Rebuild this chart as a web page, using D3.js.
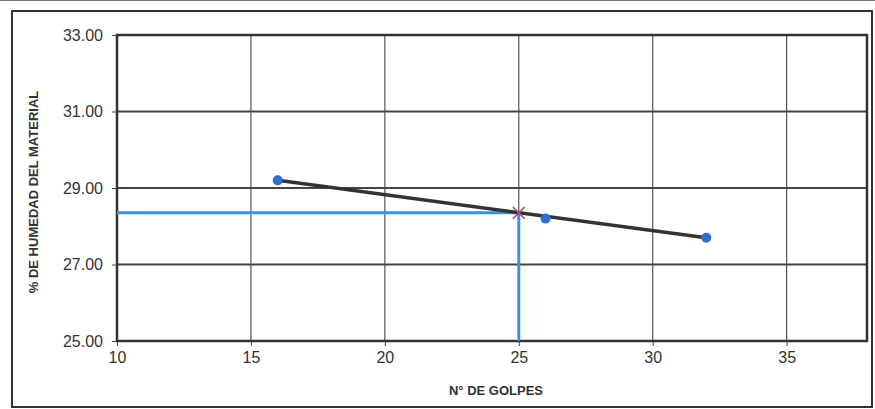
<!DOCTYPE html>
<html><head><meta charset="utf-8">
<script src="https://cdn.jsdelivr.net/npm/d3@7"></script>
<style>body{margin:0;background:#fff}svg{display:block}text{font-family:Arial,"Liberation Sans",sans-serif}</style>
</head><body><svg id="c" width="875" height="409"></svg>
<script>
const xTicks=[10,15,20,25,30,35];
const yTicks=[25,27,29,31,33];
const golpes=[16,26,32];
const humedad=[29.2,28.2,27.7];
const trendX=[16,32];
const trendY=[29.2,27.7];
const markX=[25];
const markY=[28.35];

const svg=d3.select("#c");
const m={l:117,t:35,r:867,b:341};
const x=d3.scaleLinear().domain([10,38]).range([m.l,m.r]);
const y=d3.scaleLinear().domain([25,33]).range([m.b,m.t]);

// outer frame
svg.append("rect").attr("x",12).attr("y",11).attr("width",860).attr("height",396)
 .attr("fill","none").attr("stroke","#333").attr("stroke-width",2);
svg.append("line").attr("x1",0).attr("x2",875).attr("y1",0.5).attr("y2",0.5).attr("stroke","#777").attr("stroke-width",1);

// grid
svg.append("g").selectAll("line").data(xTicks.slice(1)).join("line")
 .attr("x1",d=>x(d)).attr("x2",d=>x(d)).attr("y1",m.t).attr("y2",m.b)
 .attr("stroke","#555").attr("stroke-width",1.2);
svg.append("g").selectAll("line").data(yTicks.slice(1,-1)).join("line")
 .attr("x1",m.l).attr("x2",m.r).attr("y1",d=>y(d)).attr("y2",d=>y(d))
 .attr("stroke","#444").attr("stroke-width",2);

// axes
const xa=svg.append("g").attr("transform",`translate(0,${m.b})`)
 .call(d3.axisBottom(x).tickValues(xTicks).tickSize(5).tickPadding(6).tickFormat(d3.format("d")));
const ya=svg.append("g").attr("transform",`translate(${m.l},0)`)
 .call(d3.axisLeft(y).tickValues(yTicks).tickSize(5).tickPadding(9).tickFormat(d3.format(".2f")));
[xa,ya].forEach(a=>{a.select(".domain").remove();a.selectAll("line").attr("stroke","#444");
 a.selectAll("text").attr("font-size",16).attr("fill","#333");});

// plot border
svg.append("rect").attr("x",m.l).attr("y",m.t).attr("width",m.r-m.l).attr("height",m.b-m.t)
 .attr("fill","none").attr("stroke","#333").attr("stroke-width",2.5);

// blue guide lines
svg.append("line").attr("x1",x(10)).attr("x2",x(markX[0])).attr("y1",y(markY[0])).attr("y2",y(markY[0]))
 .attr("stroke","#3d8fe0").attr("stroke-width",3);
svg.append("line").attr("x1",x(markX[0])).attr("x2",x(markX[0])).attr("y1",y(markY[0])).attr("y2",y(25))
 .attr("stroke","#3d8fe0").attr("stroke-width",3);

// trend line
svg.append("path").datum(trendX.map((d,i)=>[d,trendY[i]]))
 .attr("d",d3.line().x(d=>x(d[0])).y(d=>y(d[1])))
 .attr("stroke","#333").attr("stroke-width",3.5).attr("fill","none");

// points
svg.append("g").selectAll("circle").data(golpes.map((d,i)=>[d,humedad[i]])).join("circle")
 .attr("cx",d=>x(d[0])).attr("cy",d=>y(d[1])).attr("r",5).attr("fill","#2f6fd0");

// cross marker
svg.append("g").selectAll("path").data(markX.map((d,i)=>[d,markY[i]])).join("path")
 .attr("d",d=>{const cx=x(d[0]),cy=y(d[1]),s=6;return `M${cx-s},${cy-s}L${cx+s},${cy+s}M${cx-s},${cy+s}L${cx+s},${cy-s}`;})
 .attr("stroke","#b04e88").attr("stroke-width",1.5);

// titles
svg.append("text").attr("x",496).attr("y",395).attr("text-anchor","middle")
 .attr("font-size",13).attr("font-weight","bold").attr("fill","#333").text("N° DE GOLPES");
svg.append("text").attr("transform","translate(38,192) rotate(-90)").attr("text-anchor","middle")
 .attr("font-size",13).attr("font-weight","bold").attr("fill","#333").text("% DE HUMEDAD DEL MATERIAL");
</script></body></html>
